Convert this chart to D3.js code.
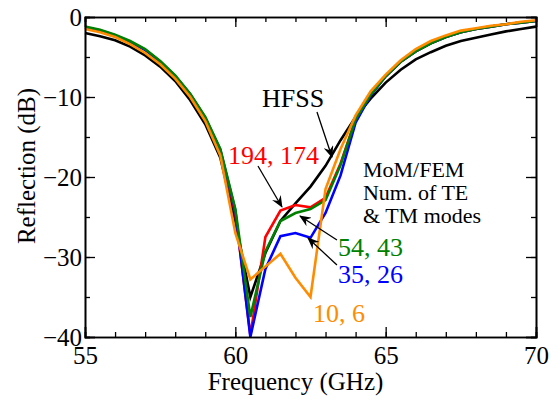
<!DOCTYPE html>
<html>
<head>
<meta charset="utf-8">
<script src="https://cdn.jsdelivr.net/npm/d3@7"></script>
<style>
  body { margin: 0; background: #fff; }
  svg text { font-family: "Liberation Serif", "Times New Roman", serif; }
</style>
</head>
<body>
<div id="chart"></div>
<script>
// frequency grid (GHz)
const freq = [55, 55.5, 56, 56.5, 57, 57.5, 58, 58.5, 59, 59.5, 60, 60.5, 61, 61.5, 62, 62.5,
  63, 63.5, 64, 64.5, 65, 65.5, 66, 66.5, 67, 67.5, 68, 68.5, 69, 69.5, 70];

// reflection in dB
const hfss = [-2.0, -2.4, -2.9, -3.7, -4.8, -6.2, -8.0, -10.4, -13.4, -17.6, -25.5, -35.0, -29.5, -25.5, -23.3, -21.2,
  -18.6, -15.4, -12.5, -10.2, -8.2, -6.6, -5.3, -4.4, -3.6, -3.0, -2.6, -2.2, -1.8, -1.5, -1.2];
const m194 = [-1.3, -1.7, -2.3, -3.1, -4.1, -5.6, -7.4, -9.7, -12.6, -16.7, -24.5, -39.8, -27.5, -24.2, -23.5, -23.8,
  -22.6, -18.3, -12.8, -9.7, -7.4, -5.6, -4.3, -3.3, -2.5, -1.9, -1.5, -1.2, -0.9, -0.7, -0.5];
const m35 = [-1.3, -1.7, -2.3, -3.1, -4.1, -5.6, -7.4, -9.7, -12.6, -16.6, -24.2, -40.0, -31.5, -27.4, -27.0, -27.6,
  -24.5, -19.8, -13.2, -9.8, -7.4, -5.6, -4.3, -3.3, -2.5, -1.9, -1.5, -1.2, -0.9, -0.7, -0.5];
const m54 = [-1.2, -1.6, -2.2, -3.0, -4.0, -5.5, -7.3, -9.6, -12.5, -16.5, -24.0, -37.5, -29.3, -25.5, -24.5, -24.0,
  -22.9, -18.5, -12.8, -9.7, -7.4, -5.6, -4.3, -3.3, -2.5, -1.9, -1.5, -1.2, -0.9, -0.7, -0.5];
const m10 = [-1.5, -1.9, -2.5, -3.4, -4.5, -5.9, -7.7, -10.0, -13.0, -17.3, -27.0, -32.8, -31.2, -29.6, -32.6, -35.0,
  -21.5, -16.5, -12.3, -9.3, -7.2, -5.4, -4.0, -3.0, -2.3, -1.7, -1.4, -1.1, -0.9, -0.6, -0.4];

const seriesNames = ["HFSS", "194, 174", "35, 26", "54, 43", "10, 6"];
const seriesValues = [hfss, m194, m35, m54, m10];
const seriesColors = ["#000000", "#ff0000", "#0000ff", "#008000", "#ff8c00"];

const xMajor = [55, 60, 65, 70];
const yMajor = [0, -10, -20, -30, -40];

const W = 559, H = 401;
const margin = {top: 17, right: 23, bottom: 64, left: 85};
const w = W - margin.left - margin.right;
const h = H - margin.top - margin.bottom;

const x = d3.scaleLinear().domain([55, 70]).range([0, w]);
const y = d3.scaleLinear().domain([-40, 0]).range([h, 0]);

const svg = d3.select("#chart").append("svg")
  .attr("width", W).attr("height", H);
const g = svg.append("g")
  .attr("transform", "translate(" + margin.left + "," + margin.top + ")");

const defs = svg.append("defs");
defs.append("marker")
  .attr("id", "arrow")
  .attr("viewBox", "0 0 12 10")
  .attr("refX", 11).attr("refY", 5)
  .attr("markerWidth", 12).attr("markerHeight", 10)
  .attr("markerUnits", "userSpaceOnUse")
  .attr("orient", "auto")
  .append("path")
  .attr("d", "M0,0 L12,5 L0,10 L4,5 Z")
  .attr("fill", "#000");

// curves
const line = d3.line()
  .x(function(d) { return x(d[0]); })
  .y(function(d) { return y(d[1]); });

g.selectAll("path.curve")
  .data(seriesValues)
  .enter()
  .append("path")
  .attr("class", "curve")
  .attr("d", function(vals) { return line(freq.map(function(f, i) { return [f, vals[i]]; })); })
  .attr("fill", "none")
  .attr("stroke", function(d, i) { return seriesColors[i]; })
  .attr("stroke-width", 2.6)
  .attr("stroke-linejoin", "miter");

// axes, ticks pointing inward
function styleAxis(sel) {
  sel.select(".domain").attr("stroke", "#000").attr("stroke-width", 1.6);
  sel.selectAll(".tick line").attr("stroke", "#000").attr("stroke-width", 1.3);
  sel.selectAll(".tick text").attr("fill", "#000").style("font-size", "25px")
    .style("font-family", "'Liberation Serif', 'Times New Roman', serif");
}

g.append("g").attr("transform", "translate(0," + h + ")")
  .call(d3.axisBottom(x).tickValues(d3.range(55, 71, 1)).tickSize(-5).tickFormat(""))
  .call(styleAxis);
g.append("g").attr("transform", "translate(0," + h + ")")
  .call(d3.axisBottom(x).tickValues(xMajor).tickSize(-10).tickPadding(9).tickFormat(d3.format("d")))
  .call(styleAxis);
g.append("g")
  .call(d3.axisTop(x).tickValues(d3.range(55, 71, 1)).tickSize(-5).tickFormat(""))
  .call(styleAxis);
g.append("g")
  .call(d3.axisTop(x).tickValues(xMajor).tickSize(-10).tickFormat(""))
  .call(styleAxis);

g.append("g")
  .call(d3.axisLeft(y).tickValues(d3.range(-40, 1, 5)).tickSize(-5).tickFormat(""))
  .call(styleAxis);
g.append("g")
  .call(d3.axisLeft(y).tickValues(yMajor).tickSize(-10).tickPadding(3).tickFormat(d3.format("d")))
  .call(styleAxis);
g.append("g").attr("transform", "translate(" + w + ",0)")
  .call(d3.axisRight(y).tickValues(d3.range(-40, 1, 5)).tickSize(-5).tickFormat(""))
  .call(styleAxis);
g.append("g").attr("transform", "translate(" + w + ",0)")
  .call(d3.axisRight(y).tickValues(yMajor).tickSize(-10).tickFormat(""))
  .call(styleAxis);

// axis titles
svg.append("text")
  .attr("x", margin.left + w / 2 - 15).attr("y", 390)
  .attr("text-anchor", "middle")
  .style("font-size", "25px")
  .text("Frequency (GHz)");
svg.append("text")
  .attr("transform", "translate(35," + 166 + ") rotate(-90)")
  .attr("text-anchor", "middle")
  .style("font-size", "25px")
  .text("Reflection (dB)");

// annotations (data coordinates)
const labels = [
  {text: "HFSS", fx: 60.886, fy: -11.25, color: "#000", size: 26},
  {text: "194, 174", fx: 59.756, fy: -18.375, color: "#ff0000", size: 26},
  {text: "MoM/FEM", fx: 64.245, fy: -20.0, color: "#000", size: 22},
  {text: "Num. of TE", fx: 64.245, fy: -22.875, color: "#000", size: 22},
  {text: "& TM modes", fx: 64.245, fy: -25.75, color: "#000", size: 22},
  {text: "54, 43", fx: 63.414, fy: -29.875, color: "#008000", size: 26},
  {text: "35, 26", fx: 63.414, fy: -33.25, color: "#0000ff", size: 26},
  {text: "10, 6", fx: 62.582, fy: -38.125, color: "#ff8c00", size: 26}
];
const arrows = [
  [62.715, -11.875, 63.214, -17.5],
  [60.753, -18.625, 61.551, -23.75],
  [63.38, -27.875, 62.15, -24.875],
  [63.38, -31.0, 62.416, -27.625]
];

g.selectAll("text.note")
  .data(labels)
  .enter()
  .append("text")
  .attr("class", "note")
  .attr("x", function(d) { return x(d.fx); })
  .attr("y", function(d) { return y(d.fy); })
  .attr("fill", function(d) { return d.color; })
  .style("font-size", function(d) { return d.size + "px"; })
  .text(function(d) { return d.text; });

g.selectAll("line.arrow")
  .data(arrows)
  .enter()
  .append("line")
  .attr("class", "arrow")
  .attr("x1", function(d) { return x(d[0]); })
  .attr("y1", function(d) { return y(d[1]); })
  .attr("x2", function(d) { return x(d[2]); })
  .attr("y2", function(d) { return y(d[3]); })
  .attr("stroke", "#000")
  .attr("stroke-width", 1.3)
  .attr("marker-end", "url(#arrow)");
</script>
</body>
</html>
